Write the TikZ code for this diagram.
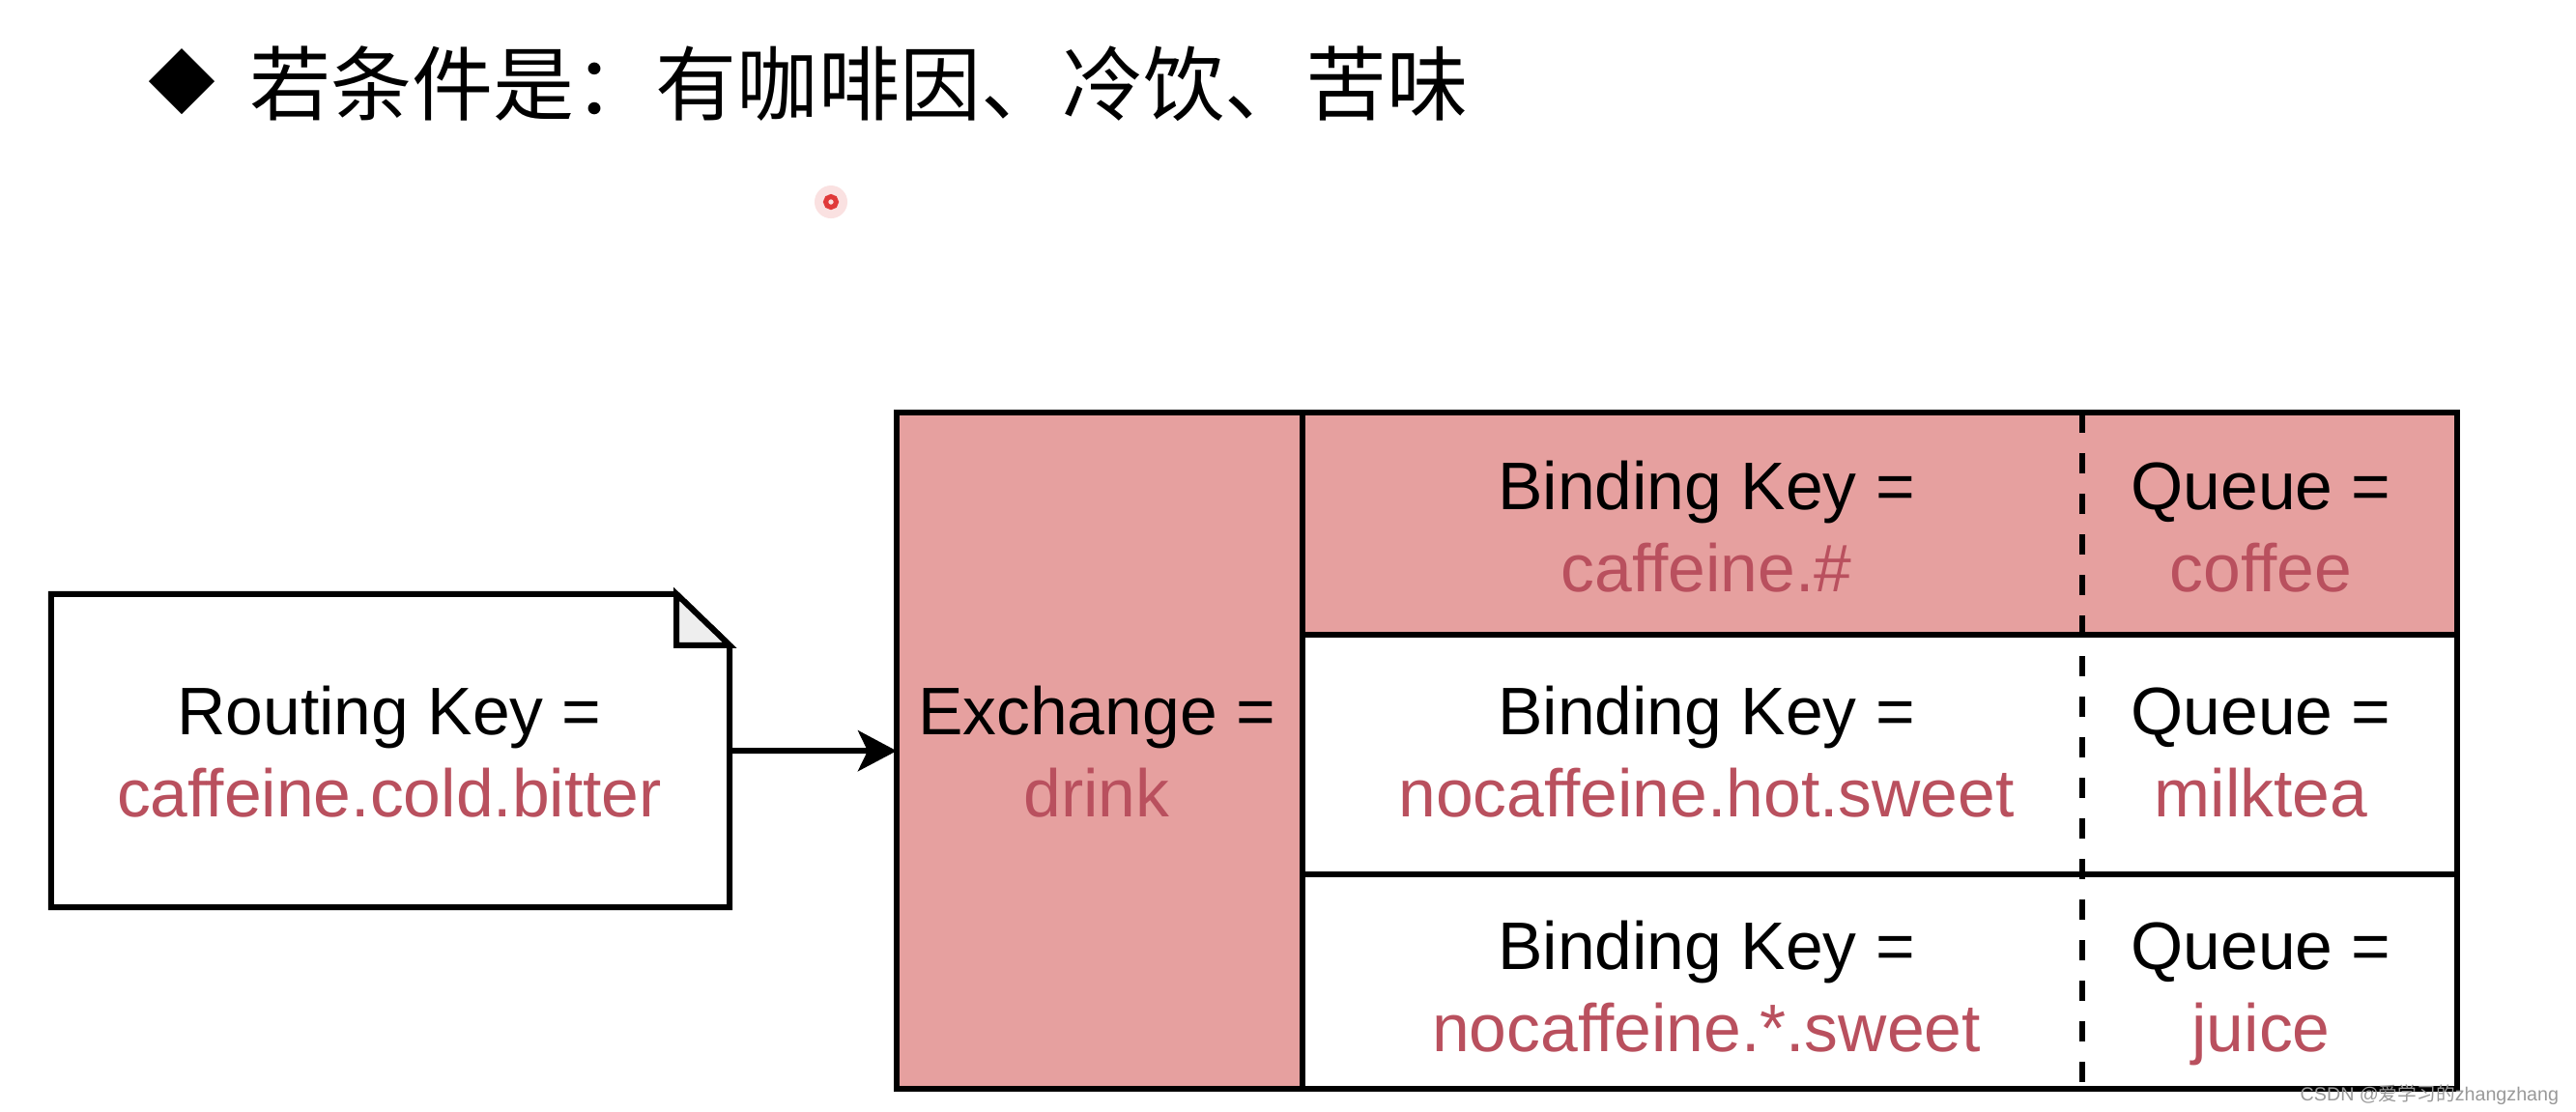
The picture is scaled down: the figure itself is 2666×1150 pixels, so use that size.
\documentclass[tikz,border=0pt]{standalone}
\usepackage{fontspec}
\setmainfont{Liberation Sans}
\newfontfamily\cjk{Noto Sans CJK SC}
\usetikzlibrary{arrows.meta}
\definecolor{pinkfill}{HTML}{E6A09F}
\definecolor{redtext}{HTML}{B9505E}
\definecolor{foldgray}{HTML}{EEEEEE}
\definecolor{dotred}{HTML}{E03A3A}
\begin{document}
\begin{tikzpicture}[x=0.01cm,y=-0.01cm,
  border/.style={line width=1.7pt, draw=black},
  cell/.style={border, anchor=north west, inner sep=0pt, outer sep=0pt},
  lbl/.style={anchor=base, inner sep=0pt, font=\fontsize{19.8}{24}\selectfont},
  val/.style={lbl, text=redtext},
  dashline/.style={line width=1.7pt, dash pattern=on 0.21cm off 0.21cm}]

\useasboundingbox[fill=white] (0,0) rectangle (2666,1150);

% title
\fill (188,50) -- (222,84) -- (188,118) -- (154,84) -- cycle;
\node[anchor=base west, inner sep=0pt, font=\cjk\fontsize{23.9}{28}\selectfont] (title) at (258,118) {若条件是：有咖啡因、冷饮、苦味};

% pointer dot
\fill[dotred!30, opacity=0.5] (860,209) circle[radius=0.17cm];
\draw[dotred, line width=0.05cm] (860,209) circle[radius=0.055cm];

% routing key note
\node[inner sep=0pt, outer sep=0pt, minimum width=7.02cm, minimum height=3.24cm] (rk) at (404,777) {};
\draw[border, fill=white, line join=miter] (rk.north west) -- ([xshift=-0.55cm]rk.north east) -- ([yshift=-0.53cm]rk.north east) -- (rk.south east) -- (rk.south west) -- cycle;
\draw[border, fill=foldgray, line join=miter] ([xshift=-0.55cm]rk.north east) -- ([xshift=-0.55cm,yshift=-0.53cm]rk.north east) -- ([yshift=-0.53cm]rk.north east) -- cycle;
\node[lbl] (rkA) at (403,760) {Routing Key =};
\node[val] (rkB) at (403,845) {caffeine.cold.bitter};

% table cells
\node[cell, fill=pinkfill, minimum width=4.2cm, minimum height=7cm] (exch) at (928,427) {};
\node[cell, fill=pinkfill, minimum width=11.94cm, minimum height=2.3cm] (r1) at (1348,427) {};
\node[cell, fill=white, minimum width=11.94cm, minimum height=2.48cm] (r2) at (1348,657) {};
\node[cell, fill=white, minimum width=11.94cm, minimum height=2.22cm] (r3) at (1348,905) {};
\coordinate (dtop) at (2155,427);
\coordinate (dbot) at (2155,1127);
\draw[dashline] (dtop) -- (dbot);

% arrow
\draw[border, -{Stealth[length=0.4cm, width=0.42cm, inset=0.1cm]}] (rk.east) -- (exch.west);

% texts
\node[lbl] (exA) at (1135,760) {Exchange =};
\node[val] (exB) at (1135,845) {drink};

\node[lbl] (b1A) at (1766,527) {Binding Key =};
\node[val] (b1B) at (1766,612) {caffeine.\#};
\node[lbl] (q1A) at (2340,527) {Queue =};
\node[val] (q1B) at (2340,612) {coffee};

\node[lbl] (b2A) at (1766,760) {Binding Key =};
\node[val] (b2B) at (1766,845) {nocaffeine.hot.sweet};
\node[lbl] (q2A) at (2340,760) {Queue =};
\node[val] (q2B) at (2340,845) {milktea};

\node[lbl] (b3A) at (1766,1003) {Binding Key =};
\node[val] (b3B) at (1766,1088) {nocaffeine.*.sweet};
\node[lbl] (q3A) at (2340,1003) {Queue =};
\node[val] (q3B) at (2340,1088) {juice};

% watermark
\node[anchor=base west, inner sep=0pt, text=gray!80, font=\fontsize{5.6}{6.5}\selectfont] (wm) at (2380,1139) {CSDN @{\cjk 爱学习的}zhangzhang};
\end{tikzpicture}
\end{document}
